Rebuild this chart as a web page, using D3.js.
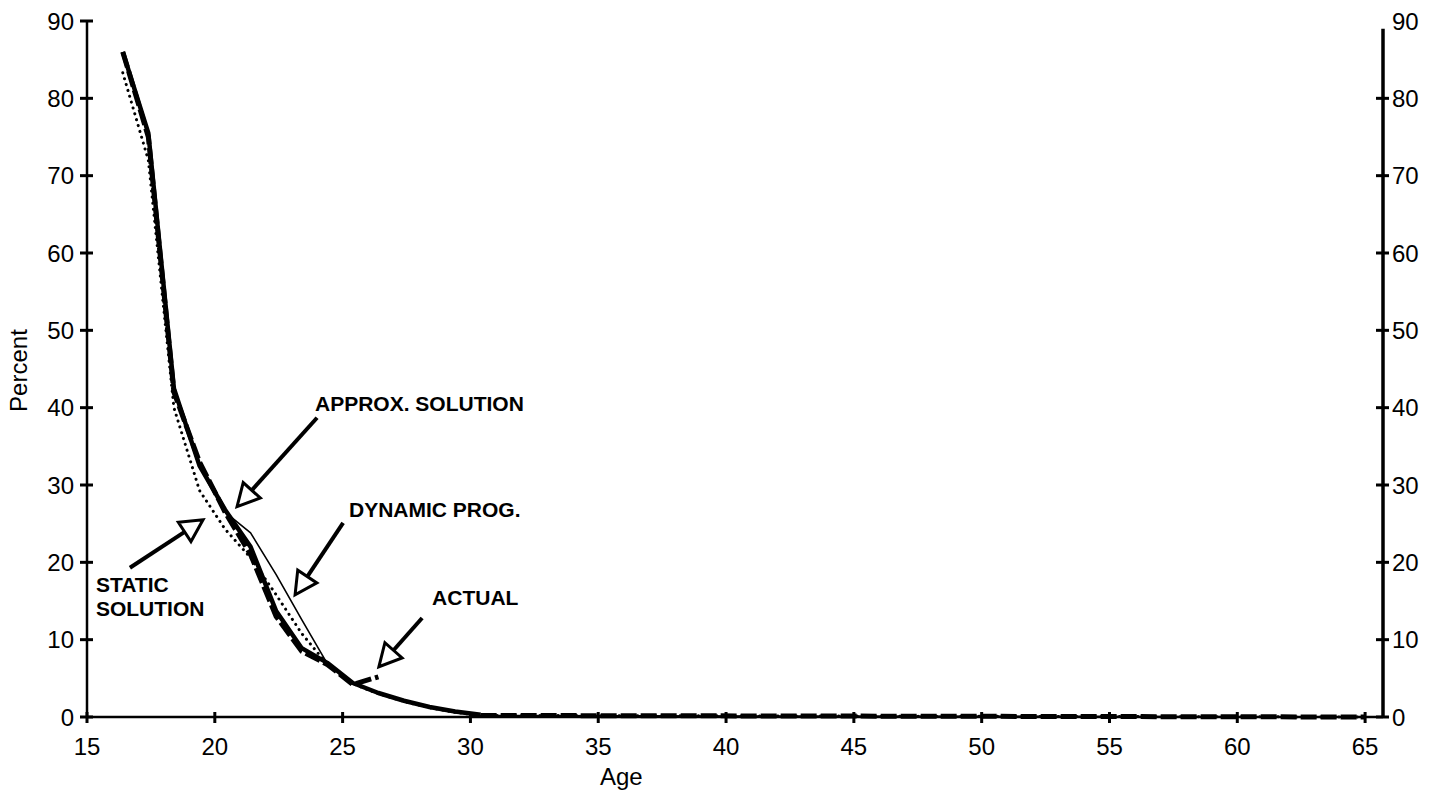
<!DOCTYPE html>
<html>
<head>
<meta charset="utf-8">
<script src="https://cdn.jsdelivr.net/npm/d3@7"></script>
<style>
  body { margin: 0; background: #fff; }
  svg { display: block; }
  .tick-label { font-family: "Liberation Sans", Arial, sans-serif; font-size: 24px; fill: #000; }
  .note { font-family: "Liberation Sans", Arial, sans-serif; font-size: 21px; font-weight: bold; fill: #000; }
</style>
</head>
<body>
<svg id="chart" width="1439" height="791"></svg>
<script>
// ages where the curves bend
const ages = [16.4, 17.4, 18.4, 19.4, 20.4, 21.4, 22.4, 23.4, 24.4, 25.4, 26.4, 27.4, 28.4, 29.4, 30.4, 65];

const approxPct  = [86, 75.5, 42.5, 32.5, 26.8, 22.0, 13.7, 8.9, 7.0, 4.4, 3.1, 2.1, 1.3, 0.7, 0.3, null];
const dynamicPct = [86, 75.0, 42.0, 32.5, 26.5, 23.8, 18.4, 12.6, 6.9, 4.4, 3.0, 2.0, 1.2, 0.6, 0.2, 0];
const staticPct  = [83.3, 72.0, 40.0, 29.3, 24.3, 20.6, 15.8, 10.8, 6.8, 4.3, 3.0, 2.0, 1.2, 0.6, 0.2, 0];
const actualPct  = [86, 75.0, 42.0, 33.0, 26.5, 21.0, 13.0, 8.5, 6.8, 4.2, 5.2, null, null, null, 0.2, 0];

const xTicks = [15, 20, 25, 30, 35, 40, 45, 50, 55, 60, 65];
const yTicks = [0, 10, 20, 30, 40, 50, 60, 70, 80, 90];

// annotations: label lines, label anchor, arrow start, arrow tip (age, percent)
const notes = [
  { lines: ['APPROX. SOLUTION'], at: [23.92, 39.6], from: [24.0, 38.7], to: [20.87, 27.2] },
  { lines: ['DYNAMIC PROG.'],    at: [25.25, 25.8], from: [25.02, 25.1], to: [23.14, 15.8] },
  { lines: ['ACTUAL'],           at: [28.5, 14.5],  from: [28.11, 12.8], to: [26.42, 6.5] },
  { lines: ['STATIC', 'SOLUTION'], at: [15.35, 16.1], from: [16.68, 19.3], to: [19.54, 25.5] }
];

const svg = d3.select('#chart');
svg.append('rect').attr('width', 1439).attr('height', 791).attr('fill', '#fff');

const x = d3.scaleLinear().domain([15, 65.7]).range([87, 1383]);
const y = d3.scaleLinear().domain([0, 90]).range([717, 21]);

// axes
const axisG = svg.append('g').attr('stroke', '#000').attr('fill', 'none');
axisG.append('line')
  .attr('x1', x(15)).attr('x2', x(65.7)).attr('y1', y(0)).attr('y2', y(0))
  .attr('stroke-width', 2.5);
axisG.append('line')
  .attr('x1', x(15)).attr('x2', x(15)).attr('y1', y(0)).attr('y2', y(90))
  .attr('stroke-width', 2.5);
axisG.append('line')
  .attr('x1', x(65.7)).attr('x2', x(65.7)).attr('y1', y(0)).attr('y2', y(89))
  .attr('stroke-width', 3.5);

axisG.selectAll('line.xt').data(xTicks).join('line')
  .attr('class', 'xt')
  .attr('x1', d => x(d)).attr('x2', d => x(d))
  .attr('y1', y(0) - 5).attr('y2', y(0) + 6)
  .attr('stroke-width', 3);

axisG.selectAll('line.yl').data(yTicks).join('line')
  .attr('class', 'yl')
  .attr('x1', x(15) - 7).attr('x2', x(15) + 6)
  .attr('y1', d => y(d)).attr('y2', d => y(d))
  .attr('stroke-width', 3);

axisG.selectAll('line.yr').data(yTicks.slice(0, -1)).join('line')
  .attr('class', 'yr')
  .attr('x1', x(65.7) - 7).attr('x2', x(65.7) + 6)
  .attr('y1', d => y(d)).attr('y2', d => y(d))
  .attr('stroke-width', 3);

svg.selectAll('text.xl').data(xTicks).join('text')
  .attr('class', 'tick-label xl')
  .attr('x', d => x(d)).attr('y', y(0) + 38)
  .attr('text-anchor', 'middle')
  .text(d => d);

svg.selectAll('text.yll').data(yTicks).join('text')
  .attr('class', 'tick-label yll')
  .attr('x', x(15) - 13).attr('y', d => y(d))
  .attr('dy', '0.36em')
  .attr('text-anchor', 'end')
  .text(d => d);

svg.selectAll('text.ylr').data(yTicks).join('text')
  .attr('class', 'tick-label ylr')
  .attr('x', x(65.7) + 9).attr('y', d => y(d))
  .attr('dy', '0.36em')
  .attr('text-anchor', 'start')
  .text(d => d);

svg.append('text')
  .attr('class', 'tick-label')
  .attr('x', x(35.9)).attr('y', 785)
  .attr('text-anchor', 'middle')
  .text('Age');

svg.append('text')
  .attr('class', 'tick-label')
  .attr('transform', `translate(27,${y(44.8)}) rotate(-90)`)
  .attr('text-anchor', 'middle')
  .text('Percent');

// series
function series(vals) {
  return ages.map((a, i) => ({ age: a, pct: vals[i] }));
}
const line = d3.line()
  .defined(d => d.pct != null)
  .x(d => x(d.age))
  .y(d => y(d.pct));

const plot = svg.append('g').attr('fill', 'none').attr('stroke', '#000')
  .attr('stroke-linejoin', 'round');

plot.append('path')
  .datum(series(dynamicPct))
  .attr('d', line)
  .attr('stroke-width', 1.6);

plot.append('path')
  .datum(series(staticPct))
  .attr('d', line)
  .attr('stroke-width', 3)
  .attr('stroke-linecap', 'round')
  .attr('stroke-dasharray', '0.1,6');

plot.append('path')
  .datum(series(approxPct))
  .attr('d', line)
  .attr('stroke-width', 4.5);

plot.append('path')
  .datum(series(actualPct))
  .attr('d', line)
  .attr('stroke-width', 5)
  .attr('stroke-dasharray', '16,4');

// annotations
const noteG = svg.append('g');
notes.forEach(n => {
  const t = noteG.append('text')
    .attr('class', 'note')
    .attr('x', x(n.at[0])).attr('y', y(n.at[1]));
  n.lines.forEach((s, i) => {
    t.append('tspan')
      .attr('x', x(n.at[0]))
      .attr('dy', i === 0 ? 0 : 24)
      .text(s);
  });

  const sx = x(n.from[0]), sy = y(n.from[1]);
  const tx = x(n.to[0]), ty = y(n.to[1]);
  const len = Math.hypot(tx - sx, ty - sy);
  const ux = (tx - sx) / len, uy = (ty - sy) / len;
  const headLen = 22, headHalf = 11.5;
  const bx = tx - ux * headLen, by = ty - uy * headLen;

  noteG.append('line')
    .attr('x1', sx).attr('y1', sy).attr('x2', bx).attr('y2', by)
    .attr('stroke', '#000').attr('stroke-width', 4);

  noteG.append('polygon')
    .attr('points', [
      [tx, ty],
      [bx - uy * headHalf, by + ux * headHalf],
      [bx + uy * headHalf, by - ux * headHalf]
    ].map(p => p.join(',')).join(' '))
    .attr('fill', '#fff')
    .attr('stroke', '#000')
    .attr('stroke-width', 3)
    .attr('stroke-linejoin', 'miter');
});
</script>
</body>
</html>
